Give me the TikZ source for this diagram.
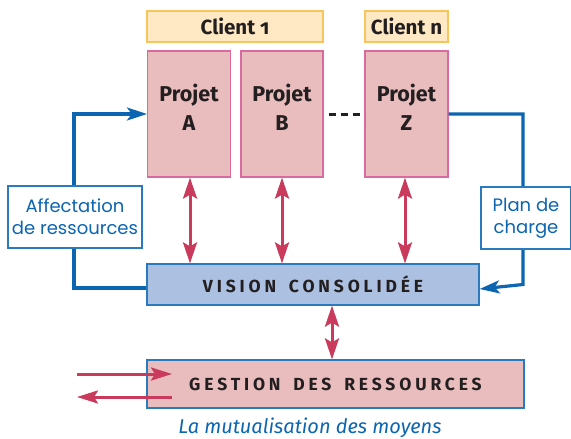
\documentclass[tikz,border=0pt]{standalone}
\usepackage{fontspec}
\setmainfont{Fira Sans}[Numbers=OldStyle]
\newfontfamily\geofont{Poppins}
\newfontfamily\trackfont{Fira Sans}[LetterSpace=22, WordSpace=1.6]
\usetikzlibrary{arrows.meta}

\definecolor{clientfill}{HTML}{FFE9C4}
\definecolor{clientdraw}{HTML}{F8C45C}
\definecolor{projfill}{HTML}{E9BCBD}
\definecolor{projdraw}{HTML}{D86AA0}
\definecolor{visfill}{HTML}{ACC0E2}
\definecolor{boxblue}{HTML}{2A7AC0}
\definecolor{flowblue}{HTML}{0B65B0}
\definecolor{flowred}{HTML}{C93A5C}
\definecolor{ink}{HTML}{231F20}

\tikzset{
  clientbox/.style={draw=clientdraw, fill=clientfill, line width=1.6pt,
    minimum height=31pt, inner sep=0pt, text=ink,
    font=\fontsize{20.5}{22}\selectfont\bfseries},
  projbox/.style={draw=projdraw, fill=projfill, line width=1.2pt,
    minimum width=83pt, minimum height=126pt, inner sep=0pt},
  projtext/.style={align=center, text=ink, inner sep=0pt,
    font=\fontsize{21.5}{29}\selectfont\bfseries},
  widebox/.style={draw=boxblue, line width=1.2pt, inner sep=0pt, text=ink,
    font=\trackfont\fontsize{17.5}{20}\selectfont\bfseries},
  notebox/.style={draw=boxblue, fill=white, line width=1.2pt, inner sep=0pt,
    minimum height=62pt, align=center, text=flowblue,
    font=\geofont\fontsize{18}{22}\selectfont},
  blueflow/.style={draw=flowblue, line width=3.2pt,
    -{Stealth[length=20pt,width=13pt,inset=5pt]}},
  redflow/.style={draw=flowred, line width=3pt,
    {Stealth[length=21pt,width=14pt,inset=4pt]}-{Stealth[length=21pt,width=14pt,inset=4pt]}},
  redone/.style={draw=flowred, line width=3pt,
    -{Stealth[length=21pt,width=13pt,inset=4pt]}},
}

\begin{document}
\begin{tikzpicture}[x=1pt,y=-1pt]
\useasboundingbox (0,0) rectangle (571,439);

% clients
\node[clientbox, minimum width=176pt] (c1) at (235,26.5) {Client 1};
\node[clientbox, minimum width=83pt]  (cn) at (406.5,26.5) {Client n};

% projects
\node[projbox] (pa) at (189,114) {};
\node[projbox, minimum width=82pt] (pb) at (282,114) {};
\node[projbox] (pz) at (406.5,114) {};
\node[projtext] (ta) at ([yshift=7pt]pa.center) {Projet\\A};
\node[projtext] (tb) at ([yshift=7pt]pb.center) {Projet\\B};
\node[projtext] (tz) at ([yshift=7pt]pz.center) {Projet\\Z};
\draw[ink, line width=3pt, dash pattern=on 7pt off 5pt] ([xshift=5pt]pb.east) -- (pz.west);

% consolidated view and resource management
\node[widebox, fill=visfill, minimum width=332pt, minimum height=41pt] (vis) at (313,284.5) {VISION CONSOLIDÉE};
\node[widebox, fill=projfill, minimum width=377pt, minimum height=48pt] (ges) at (335.5,384) {GESTION DES RESSOURCES};

% side feedback loops
\coordinate (lc) at (74,0);
\coordinate (rc) at (523,0);
\draw[blueflow] ([yshift=-3.5pt]vis.west) -| (lc |- pa.west) -- (pa.west);
\draw[blueflow] (pz.east) -| (rc |- vis.east) -- ([yshift=-4.5pt]vis.east);
\node[notebox, minimum width=134pt] (aff) at (75,217) {Affectation\\de ressources};
\node[notebox, minimum width=90pt] (plan) at (526,218) {Plan de\\charge};

% exchanges between projects and the consolidated view
\draw[redflow] ([xshift=1pt]pa.south) -- ([xshift=1pt]pa.south |- vis.north);
\draw[redflow] (pb.south) -- (pb.south |- vis.north);
\draw[redflow] ([xshift=-1.5pt]pz.south) -- ([xshift=-1.5pt]pz.south |- vis.north);
\draw[redflow] ([xshift=19pt]vis.south) -- ([xshift=19pt]vis.south |- ges.north);

% external exchanges of the resource pool
\coordinate (in0) at (77,374);
\coordinate (in1) at (172,374);
\coordinate (out0) at (172,397);
\coordinate (out1) at (77,397);
\draw[redone] (in0) -- (in1);
\draw[redone] (out0) -- (out1);

% caption
\node[text=flowblue, font=\fontsize{20}{24}\selectfont\itshape, inner sep=0pt] (cap) at (310,428) {La mutualisation des moyens};
\end{tikzpicture}
\end{document}
